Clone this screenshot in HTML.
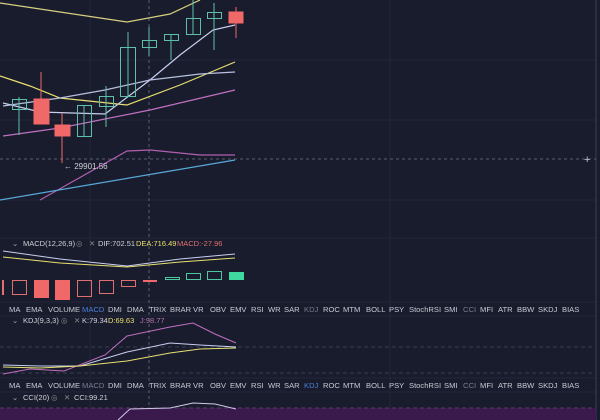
<!DOCTYPE html>
<html><head><style>
body{margin:0;background:#191c2d;}
svg{display:block}
text{font-family:"Liberation Sans",sans-serif;}
</style></head><body>
<svg width="600" height="420" viewBox="0 0 600 420">
<rect width="600" height="420" fill="#191c2d"/>
<g stroke="#22263a" stroke-width="1">
<line x1="0" y1="60" x2="596" y2="60"/><line x1="0" y1="120" x2="596" y2="120"/><line x1="0" y1="200" x2="596" y2="200"/>
<line x1="90" y1="0" x2="90" y2="420"/><line x1="390" y1="0" x2="390" y2="420"/>
<line x1="0" y1="238" x2="596" y2="238"/><line x1="0" y1="302" x2="596" y2="302"/><line x1="0" y1="316" x2="596" y2="316"/><line x1="0" y1="378" x2="596" y2="378"/><line x1="0" y1="392" x2="596" y2="392"/>
</g>
<line x1="596" y1="0" x2="596" y2="420" stroke="#3a3e52"/>
<line x1="0" y1="159" x2="596" y2="159" stroke="#5a5e72" stroke-dasharray="3,3"/>
<line x1="149" y1="0" x2="149" y2="420" stroke="#5a5e72" stroke-dasharray="3,3"/>
<line x1="0" y1="347" x2="596" y2="347" stroke="#3a3e52" stroke-dasharray="4,3"/>
<line x1="0" y1="373" x2="596" y2="373" stroke="#3a3e52" stroke-dasharray="4,3"/>
<text x="584" y="163" fill="#ccc" font-size="11">+</text>
<g fill="none" stroke-width="1.2">
<polyline points="0,3 60,12 127,22 170,14 200,0" stroke="#d8d080"/>
<polyline points="0,76 30,86 60,98 127,105 180,85 235,62" stroke="#e8e070"/>
<polyline points="3,103 40,112 105,114 150,80 180,55 213,30 235,25" stroke="#c8d0f0"/>
<polyline points="3,106 60,98 105,90 150,80 200,74 235,72" stroke="#b8c0e0"/>
<polyline points="3,136 60,128 150,110 235,90" stroke="#c070c0"/>
<polyline points="40,200 127,151 150,150 200,155 235,155" stroke="#b060b0"/>
<polyline points="0,200 235,160" stroke="#58a8d8"/>
</g>
<g stroke="#5ec0a8" fill="none" stroke-width="1">
<line x1="19" y1="97" x2="19" y2="135"/><rect x="12.5" y="99.5" width="14" height="10"/>
<line x1="84" y1="105" x2="84" y2="136"/><rect x="77.5" y="105.5" width="14" height="31"/>
<line x1="106" y1="86" x2="106" y2="127"/><rect x="99.5" y="96.5" width="14" height="10"/>
<line x1="128" y1="32" x2="128" y2="96"/><rect x="120.5" y="47.5" width="15" height="49"/>
<line x1="149" y1="27" x2="149" y2="56"/><rect x="142.5" y="40.5" width="14" height="7"/>
<line x1="171" y1="34" x2="171" y2="60"/><rect x="164.5" y="34.5" width="14" height="6"/>
<line x1="193" y1="0" x2="193" y2="34"/><rect x="186.5" y="18.5" width="14" height="16"/>
<line x1="214" y1="3" x2="214" y2="50"/><rect x="207.5" y="12.5" width="14" height="6"/>
</g>
<g fill="#f06868" stroke="#f06868">
<line x1="41" y1="72" x2="41" y2="124"/><rect x="34" y="99" width="15" height="25"/>
<line x1="62" y1="113" x2="62" y2="163"/><rect x="55" y="125" width="15" height="11"/>
<line x1="236" y1="7" x2="236" y2="38"/><rect x="229" y="12" width="14" height="11"/>
</g>
<text x="64" y="169" fill="#d0d0d8" font-size="8">← 29901.56</text>
<g font-size="7.5" fill="#d0d0d8">
<text x="12" y="246" fill="#aab">⌄</text>
<text x="23" y="246">MACD(12,26,9)</text><text x="76" y="246" fill="#888">◎</text><text x="89" y="246" fill="#888">✕</text>
<text x="98" y="246">DIF:702.51</text><text x="136" y="246" fill="#e8e070">DEA:716.49</text><text x="177" y="246" fill="#e07070">MACD:-27.96</text>
</g>
<g fill="none" stroke-width="1">
<polyline points="3,251 60,259 127,266 180,259 235,254" stroke="#c8d0f0"/>
<polyline points="3,257 60,263 127,267 180,262 235,258" stroke="#e8e070"/>
</g>
<g fill="none" stroke="#e07070">
<rect x="12.5" y="280.5" width="14" height="14"/><rect x="77.5" y="280.5" width="14" height="16"/><rect x="99.5" y="280.5" width="14" height="13"/><rect x="121.5" y="280.5" width="14" height="6"/>
<line x1="3" y1="280" x2="3" y2="295" stroke-width="2"/>
</g>
<g fill="#f06868"><rect x="34" y="280" width="15" height="18"/><rect x="55" y="280" width="15" height="20"/><rect x="143" y="280" width="14" height="2"/></g>
<g fill="none" stroke="#4ec8a0"><rect x="165.5" y="277.5" width="14" height="2"/><rect x="186.5" y="273.5" width="14" height="6"/><rect x="207.5" y="271.5" width="14" height="8"/></g>
<rect x="229" y="272" width="15" height="8" fill="#3ed8a0"/>
<g font-size="7.6" fill="#c8cad4">
<text y="312"><tspan x="9">MA</tspan><tspan x="26">EMA</tspan><tspan x="48">VOLUME</tspan><tspan x="82" fill="#4a7fd8">MACD</tspan><tspan x="108">DMI</tspan><tspan x="127">DMA</tspan><tspan x="149">TRIX</tspan><tspan x="170">BRAR</tspan><tspan x="193">VR</tspan><tspan x="210">OBV</tspan><tspan x="230">EMV</tspan><tspan x="251">RSI</tspan><tspan x="268">WR</tspan><tspan x="284">SAR</tspan><tspan x="304" fill="#777b90">KDJ</tspan><tspan x="323">ROC</tspan><tspan x="343">MTM</tspan><tspan x="366">BOLL</tspan><tspan x="389">PSY</tspan><tspan x="409">StochRSI</tspan><tspan x="444">SMI</tspan><tspan x="463" fill="#777b90">CCI</tspan><tspan x="480">MFI</tspan><tspan x="498">ATR</tspan><tspan x="517">BBW</tspan><tspan x="538">SKDJ</tspan><tspan x="562">BIAS</tspan></text>
<text y="388"><tspan x="9">MA</tspan><tspan x="26">EMA</tspan><tspan x="48">VOLUME</tspan><tspan x="82" fill="#777b90">MACD</tspan><tspan x="108">DMI</tspan><tspan x="127">DMA</tspan><tspan x="149">TRIX</tspan><tspan x="170">BRAR</tspan><tspan x="193">VR</tspan><tspan x="210">OBV</tspan><tspan x="230">EMV</tspan><tspan x="251">RSI</tspan><tspan x="268">WR</tspan><tspan x="284">SAR</tspan><tspan x="304" fill="#4a7fd8">KDJ</tspan><tspan x="323">ROC</tspan><tspan x="343">MTM</tspan><tspan x="366">BOLL</tspan><tspan x="389">PSY</tspan><tspan x="409">StochRSI</tspan><tspan x="444">SMI</tspan><tspan x="463" fill="#777b90">CCI</tspan><tspan x="480">MFI</tspan><tspan x="498">ATR</tspan><tspan x="517">BBW</tspan><tspan x="538">SKDJ</tspan><tspan x="562">BIAS</tspan></text>
</g>
<g font-size="7.5" fill="#d0d0d8">
<text x="12" y="323" fill="#aab">⌄</text>
<text x="23" y="323">KDJ(9,3,3)</text><text x="61" y="323" fill="#888">◎</text><text x="74" y="323" fill="#888">✕</text>
<text x="82" y="323">K:79.34</text><text x="108" y="323" fill="#e8e070">D:69.63</text><text x="140" y="323" fill="#b070b0">J:98.77</text>
</g>
<g fill="none" stroke-width="1">
<polyline points="3,374 30,369 64,371 105,355 127,336 170,327 193,323 215,334 236,343" stroke="#c070c0"/>
<polyline points="3,365 40,366 80,366 127,352 170,343 200,345 236,347" stroke="#c8d0f0"/>
<polyline points="3,367 40,368 80,366 127,361 170,353 200,349 236,348" stroke="#e8e070"/>
</g>
<g font-size="7.5" fill="#d0d0d8">
<text x="12" y="400" fill="#aab">⌄</text>
<text x="23" y="400">CCI(20)</text><text x="51" y="400" fill="#888">◎</text><text x="64" y="400" fill="#888">✕</text>
<text x="74" y="400">CCI:99.21</text>
</g>
<rect x="0" y="408" width="596" height="12" fill="#3a1a4c"/>
<line x1="0" y1="408" x2="596" y2="408" stroke="#5a3a6a" stroke-dasharray="4,3"/>
<polyline points="118,420 130,409 170,408 193,403 215,404 236,409" fill="none" stroke="#d0c8e8"/>
</svg>
</body></html>
